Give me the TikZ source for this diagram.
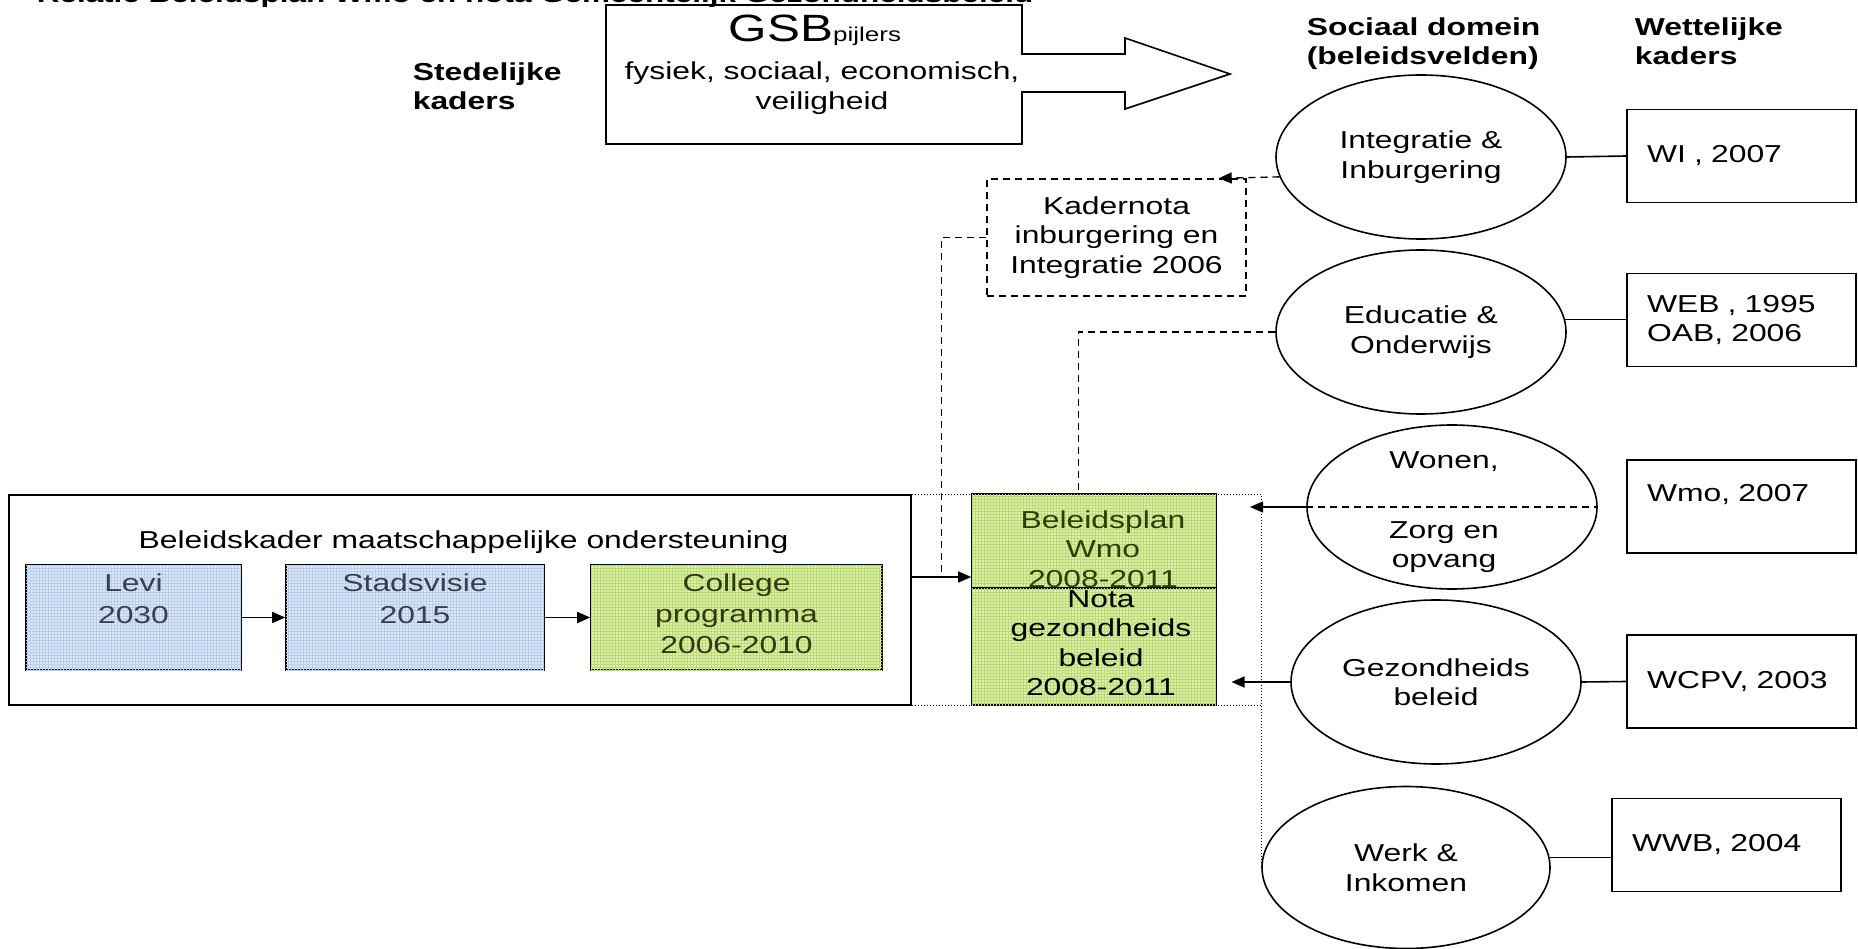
\documentclass[tikz,border=0pt]{standalone}
\usepackage{fontspec}
\setmainfont[FakeStretch=1.3]{Liberation Sans}
\usetikzlibrary{shapes.geometric,arrows.meta,patterns}
\definecolor{gfill}{HTML}{DCEFB0}
\definecolor{ggrid}{HTML}{BADC72}
\definecolor{bfill}{HTML}{DDE9F6}
\definecolor{bgrid}{HTML}{B7CFEC}
\definecolor{bluetxt}{HTML}{3A3F4F}
\definecolor{greentxt}{HTML}{33380F}
\definecolor{olivetxt}{HTML}{2F3C05}
\begin{document}
\begin{tikzpicture}[x=1pt,y=-1pt,line width=1.6pt,
  body/.style={font=\fontsize{24.5}{29.5}\selectfont,align=center,inner sep=0pt},
  head/.style={font=\fontsize{24.5}{29}\selectfont\bfseries,align=left,inner sep=0pt,anchor=base west},
  ell/.style={draw,ellipse,minimum width=290pt,minimum height=164pt,inner sep=0pt,body},
  law/.style={draw,minimum height=93pt,text width=189pt,inner xsep=20pt,inner ysep=0pt,align=left,font=\fontsize{24.5}{29.5}\selectfont},
  bluebox/.style={draw,fill=bfill,postaction={pattern=grid,pattern color=bgrid},minimum height=105pt,inner sep=0pt},
  greenbox/.style={draw,fill=gfill,postaction={pattern=grid,pattern color=ggrid},inner sep=0pt},
  arr/.style={-{Triangle[length=13pt,width=11pt]}},
  dsh/.style={dash pattern=on 7pt off 5pt,line width=1.4pt},
  dotl/.style={dash pattern=on 1.2pt off 1.8pt,line width=1.2pt}]
\useasboundingbox (0,0) rectangle (1858,949);

% title (cut off at top)
\node[anchor=base west,font=\fontsize{24.2}{29}\selectfont\bfseries,inner sep=0pt] (title) at (36,3)
  {Relatie Beleidsplan Wmo en nota Gemeentelijk Gezondheidsbeleid};

% headings (anchor = baseline of the last line)
\node[head] (sted) at (412,110) {Stedelijke\\kaders};
\node[head] (soc) at (1306,65) {Sociaal domein\\(beleidsvelden)};
\node[head] (wet) at (1634,65) {Wettelijke\\kaders};

% GSB block arrow
\draw (1022,54) -- (1125,54) -- (1125,38) -- (1230,74) -- (1125,109) -- (1125,92)
  -- (1022,92) -- (1022,144) -- (606,144) -- (606,5) -- (1022,5) -- cycle;
\node[anchor=base west,inner sep=0pt] (gsb) at (728,42)
  {{\fontsize{38}{40}\selectfont GSB}{\fontsize{20}{22}\selectfont pijlers}};
\node[body,anchor=north] (gsbt) at (822,61) {fysiek, sociaal, economisch,\\veiligheid};

% ellipses
\node[ell] (E1) at (1421,157) {Integratie \&\\Inburgering};
\node[ell] (E2) at (1421,332) {Educatie \&\\Onderwijs};
\node[ell] (E3) at (1452,507) {};
\node[ell] (E4) at (1436,682) {Gezondheids\\beleid};
\node[ell,minimum width=288pt,minimum height=162pt] (E5) at (1406,867.5) {Werk \&\\Inkomen};
\node[body,anchor=base] (E3a) at (1444,468) {Wonen,};
\node[body,anchor=north] (E3b) at (1444,520.5) {Zorg en\\opvang};

% legal frames
\node[law] (wi) at (1741.5,156) {WI , 2007};
\node[law] (web) at (1741.5,320) {WEB , 1995\\OAB, 2006};
\node[law,text depth=26.5pt] (wmo7) at (1741.5,506.5) {Wmo, 2007};
\node[law] (wcpv) at (1741.5,681.5) {WCPV, 2003};
\node[law] (wwb) at (1726.5,845) {WWB, 2004};

\draw (E1.east) -- (wi.west);
\draw (E2.5) -- (E2.5 -| web.west);
\draw (E4.east) -- (wcpv.west);
\draw (E5.4.3) -- (E5.4.3 -| wwb.west);

% outer framework box
\node[draw,minimum width=902pt,minimum height=210pt,inner sep=0pt] (bk) at (460,600) {};
\node[body,anchor=base] (bkt) at (463.6,548) {Beleidskader maatschappelijke ondersteuning};

% dotted frame around the Wmo plan
\draw[dotl] (bk.north east) -- (bk.north east -| E5.west) -- (E5.west);
\draw[dotl] (bk.south east) -- (bk.south east -| E5.west);

% inner boxes
\node[bluebox,minimum width=215pt] (levi) at (133.5,617.5) {};
\node[bluebox,minimum width=258pt] (stad) at (415,617.5) {};
\node[greenbox,minimum width=291pt,minimum height=105pt] (coll) at (736.5,617.5) {};
\node[body,anchor=north,text=bluetxt,font=\fontsize{24.5}{32}\selectfont] (levit) at ([yshift=-9pt]levi.north) {Levi\\2030};
\node[body,anchor=north,text=bluetxt,font=\fontsize{24.5}{32}\selectfont] (stadt) at ([yshift=-9pt]stad.north) {Stadsvisie\\2015};
\node[body,anchor=north,text=greentxt,font=\fontsize{24.5}{31}\selectfont] (collt) at ([yshift=-9pt]coll.north) {College\\programma\\2006-2010};
\draw[arr] (levi.east) -- (stad.west);
\draw[arr] (stad.east) -- (coll.west);

% Wmo plan boxes
\node[greenbox,minimum width=244pt,minimum height=94pt] (wmo) at (1094,541) {};
\node[greenbox,minimum width=244pt,minimum height=117pt] (nota) at (1094,646.5) {};
\node[body,anchor=north,text=olivetxt] (wmot) at (1103,509.5) {Beleidsplan\\Wmo\\2008-2011};
\node[body,anchor=north] (notat) at (1101,589.5) {Nota\\gezondheids\\beleid\\2008-2011};

% Kadernota
\node[draw,dsh,minimum width=259pt,minimum height=117pt,body] (kn) at (1116.5,237.5) {Kadernota\\inburgering en\\Integratie 2006};

% connectors to the plan
\coordinate (j) at (941.7,577);
\coordinate (k) at (1078.3,332);
\coordinate (t3) at (1250,507);
\coordinate (t4) at (1231.5,682);
\draw[dsh] (kn.west) -| (j);
\draw[dsh] (E2.west) -- (k) -- (k |- wmo.north);
\draw[dsh,arr] (E1.188.9) -- ([xshift=-28pt]kn.north east);
\draw[arr] (bk.east |- j) -- (wmo.west |- j);
\draw[dsh] (E3.west) -- (E3.east);
\draw[arr] (E3.west) -- (t3);
\draw[arr] (E4.west) -- (t4);
\end{tikzpicture}
\end{document}
